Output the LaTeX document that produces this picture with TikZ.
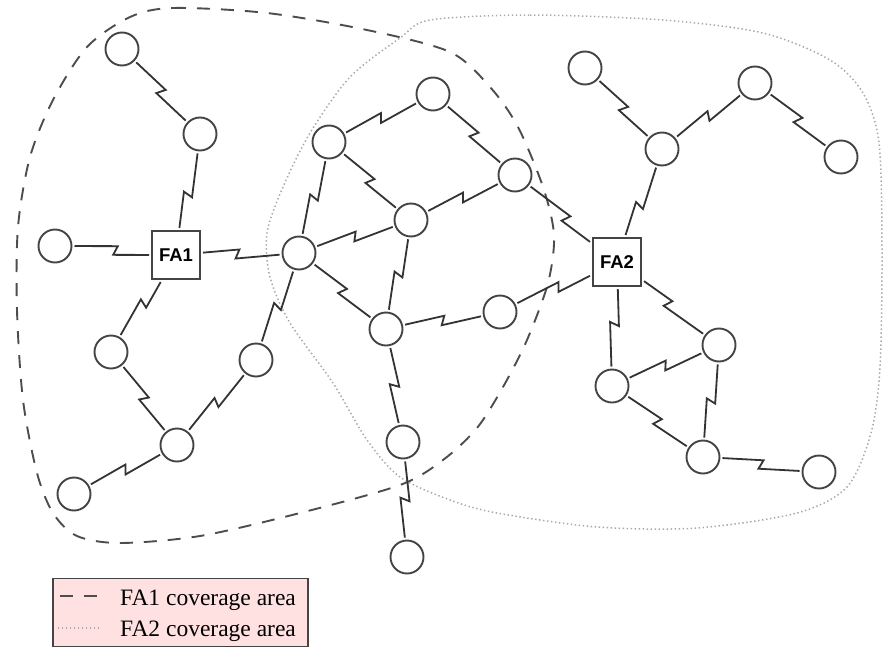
\documentclass[tikz,border=0pt]{standalone}
\usepackage{fontspec}
\setmainfont{Liberation Serif}
\newfontfamily\fasans{Liberation Sans}
\usepackage{tikz}
\usetikzlibrary{calc,positioning}
\definecolor{nodegray}{HTML}{444444}
\definecolor{edgegray}{HTML}{333333}
\definecolor{fa1line}{HTML}{4D4D4D}
\definecolor{fa2line}{HTML}{A8A8A8}
\definecolor{legendpink}{HTML}{FFE1E1}
\tikzset{
    mobile/.style = {
        draw = nodegray,
        circle,
        line width = 1.9pt,
        minimum size = 33pt,
        inner sep = 0pt,
        outer sep = 3pt
    },
    agent/.style = {
        draw = nodegray,
        rectangle,
        line width = 1.8pt,
        minimum size = 48pt,
        inner sep = 0pt,
        outer sep = 3pt,
        text = black,
        font = \fasans\bfseries\fontsize{18.5}{18.5}\selectfont
    },
    link/.style = {
        draw = edgegray,
        line width = 1.8pt,
        to path = {-- ($(\tikztostart)!0.5!(\tikztotarget)!2pt!(\tikztotarget)!4.5pt!90:(\tikztotarget)$)
                   -- ($(\tikztostart)!0.5!(\tikztotarget)!-2pt!(\tikztotarget)!4.5pt!-90:(\tikztotarget)$)
                   -- (\tikztotarget)}
    },
    fa1area/.style = {
        draw = fa1line,
        line width = 1.9pt,
        dash pattern = on 13pt off 11pt
    },
    fa2area/.style = {
        draw = fa2line,
        line width = 1.5pt,
        dash pattern = on 1.4pt off 2.6pt
    },
    keytext/.style = {
        anchor = base west,
        inner sep = 0pt,
        font = \fontsize{23.5}{23.5}\selectfont
    }
}
\begin{document}
\begin{tikzpicture}[x=1pt, y=-1pt]
    \useasboundingbox (0,0) rectangle (883,648);
%coverage areas
    \path[fa1area] plot[smooth cycle] coordinates {(130,17) (173,8) (267,13) (367,30) (450,52) (490,87) (518,127) (543,187) (554,235) (548,283) (527,340) (503,387) (477,428) (443,460) (400,485) (300,513) (200,536) (120,543) (77,536) (53,513) (37,473) (23,400) (17,310) (18,227) (30,157) (53,100) (87,47)};
    \path[fa2area] plot[smooth cycle] coordinates {(430,20) (530,15) (663,20) (763,33) (830,60) (863,93) (879,143) (882,250) (880,367) (871,433) (847,487) (797,513) (697,528) (597,527) (497,513) (450,500) (400,477) (367,440) (333,383) (290,323) (270,277) (267,233) (283,187) (310,133) (350,77) (400,38)};
%foreign agents
    \node (FA1) [agent] at (176,255) {FA1};
    \node (FA2) [agent] at (617,262) {FA2};
%mobile nodes
    \node (M1) [mobile] at (122,49) {};
    \node (M2) [mobile] at (200,134) {};
    \node (M3) [mobile] at (55,246) {};
    \node (M4) [mobile] at (299,253) {};
    \node (M5) [mobile] at (329,142) {};
    \node (M6) [mobile] at (433,94) {};
    \node (M7) [mobile] at (411,220) {};
    \node (M8) [mobile] at (515,175) {};
    \node (M9) [mobile] at (386,329) {};
    \node (M10) [mobile] at (500,312) {};
    \node (M11) [mobile] at (585,68) {};
    \node (M12) [mobile] at (662,149) {};
    \node (M13) [mobile] at (755,83) {};
    \node (M14) [mobile] at (841,157) {};
    \node (M15) [mobile] at (111,352) {};
    \node (M16) [mobile] at (256,360) {};
    \node (M17) [mobile] at (177,445) {};
    \node (M18) [mobile] at (74,494) {};
    \node (M19) [mobile] at (403,442) {};
    \node (M20) [mobile] at (407,557) {};
    \node (M21) [mobile] at (719,345) {};
    \node (M22) [mobile] at (612,386) {};
    \node (M23) [mobile] at (703,457) {};
    \node (M24) [mobile] at (819,472) {};
%wireless links
    \path (M1) edge[link] (M2);
    \path (M2) edge[link] (FA1);
    \path (M3) edge[link] (FA1);
    \path (FA1) edge[link] (M4);
    \path (FA1) edge[link] (M15);
    \path (M15) edge[link] (M17);
    \path (M17) edge[link] (M16);
    \path (M16) edge[link] (M4);
    \path (M18) edge[link] (M17);
    \path (M4) edge[link] (M5);
    \path (M4) edge[link] (M7);
    \path (M4) edge[link] (M9);
    \path (M5) edge[link] (M6);
    \path (M5) edge[link] (M7);
    \path (M6) edge[link] (M8);
    \path (M7) edge[link] (M8);
    \path (M7) edge[link] (M9);
    \path (M8) edge[link] (FA2);
    \path (M9) edge[link] (M10);
    \path (M10) edge[link] (FA2);
    \path (M9) edge[link] (M19);
    \path (M19) edge[link] (M20);
    \path (M11) edge[link] (M12);
    \path (M12) edge[link] (M13);
    \path (M13) edge[link] (M14);
    \path (FA2) edge[link] (M12);
    \path (FA2) edge[link] (M21);
    \path (FA2) edge[link] (M22);
    \path (M22) edge[link] (M21);
    \path (M21) edge[link] (M23);
    \path (M22) edge[link] (M23);
    \path (M23) edge[link] (M24);
%legend
    \node (key) [rectangle, draw=nodegray, line width=1.4pt, fill=legendpink, minimum width=255pt, minimum height=68pt, inner sep=0pt] at (180.5,612.5) {};
    \node (key1) [keytext] at (120,605) {FA1 coverage area};
    \node (key2) [keytext] at (120,636) {FA2 coverage area};
    \coordinate (k1a) at (60,596);
    \coordinate (k1b) at (104,596);
    \coordinate (k2a) at (58,628);
    \coordinate (k2b) at (100,628);
    \path[fa1area] (k1a) -- (k1b);
    \path[fa2area] (k2a) -- (k2b);
\end{tikzpicture}
\end{document}
